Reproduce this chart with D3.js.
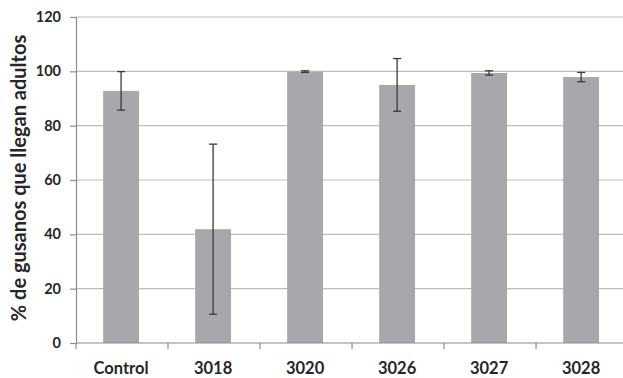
<!DOCTYPE html>
<html>
<head>
<meta charset="utf-8">
<script src="https://cdn.jsdelivr.net/npm/d3@7"></script>
<style>
  html, body { margin: 0; padding: 0; background: #fff; }
  svg { display: block; }
  text { font-family: Lato, "Open Sans", sans-serif; font-weight: bold; fill: #262626; }
</style>
</head>
<body>
<svg id="chart" width="623" height="378"></svg>
<script>
// Strains tested and mean percentage of worms reaching adulthood
const categories = ["Control", "3018", "3020", "3026", "3027", "3028"];
const means = [92.8, 41.9, 99.9, 95.0, 99.4, 97.9];
const errors = [7.1, 31.3, 0.3, 9.7, 0.8, 1.7];
const yTicks = [0, 20, 40, 60, 80, 100, 120];
const yTitle = "% de gusanos que llegan adultos";

const svg = d3.select("#chart");
const W = 623, H = 378;
const plot = { left: 76, top: 17, bottom: 343 };

const x = d3.scaleBand()
  .domain(categories)
  .range([plot.left, plot.left + 6 * 91.7])
  .paddingInner(0.61)
  .paddingOuter(0.295);

const y = d3.scaleLinear().domain([0, 120]).range([plot.bottom, plot.top]);

// horizontal gridlines
svg.append("g")
  .selectAll("line")
  .data(yTicks.filter(d => d > 0))
  .join("line")
  .attr("x1", plot.left).attr("x2", W)
  .attr("y1", d => y(d)).attr("y2", d => y(d))
  .attr("stroke", "#bdbdbd").attr("stroke-width", 1.2);

// bars
svg.append("g")
  .selectAll("rect")
  .data(categories)
  .join("rect")
  .attr("x", d => x(d))
  .attr("width", x.bandwidth())
  .attr("y", (d, i) => y(means[i]))
  .attr("height", (d, i) => y(0) - y(means[i]))
  .attr("fill", "#a6a8ac");

// error bars
const eb = svg.append("g").attr("stroke", "#3a3a3a").attr("stroke-width", 1.3);
categories.forEach((c, i) => {
  const cx = x(c) + x.bandwidth() / 2;
  const hi = y(means[i] + errors[i]), lo = y(means[i] - errors[i]);
  eb.append("line").attr("x1", cx).attr("x2", cx).attr("y1", hi).attr("y2", lo);
  eb.append("line").attr("x1", cx - 4).attr("x2", cx + 4).attr("y1", hi).attr("y2", hi);
  eb.append("line").attr("x1", cx - 4).attr("x2", cx + 4).attr("y1", lo).attr("y2", lo);
});

// y axis
const yAxis = svg.append("g")
  .attr("transform", `translate(${plot.left},0)`)
  .call(d3.axisLeft(y).tickValues(yTicks).tickSize(6).tickPadding(9));
yAxis.select(".domain").attr("stroke", "#8c8c8c").attr("stroke-width", 1.2);
yAxis.selectAll(".tick line").attr("stroke", "#8c8c8c").attr("stroke-width", 1.2);
yAxis.selectAll(".tick text").style("font-size", "14.5px").attr("fill", "#262626");

// x axis with ticks on category boundaries
const xAxisG = svg.append("g").attr("transform", `translate(0,${plot.bottom})`);
xAxisG.append("line")
  .attr("x1", plot.left).attr("x2", W)
  .attr("stroke", "#8c8c8c").attr("stroke-width", 1.2);
const step = x.step();
xAxisG.selectAll("line.tk")
  .data(d3.range(categories.length + 1))
  .join("line").attr("class", "tk")
  .attr("x1", i => plot.left + i * step).attr("x2", i => plot.left + i * step)
  .attr("y1", 0).attr("y2", 6)
  .attr("stroke", "#8c8c8c").attr("stroke-width", 1.2);
xAxisG.selectAll("text")
  .data(categories)
  .join("text")
  .attr("x", d => x(d) + x.bandwidth() / 2)
  .attr("y", 31)
  .attr("text-anchor", "middle")
  .style("font-size", "16.5px")
  .text(d => d);

// y axis title
svg.append("text")
  .attr("transform", `translate(26,${(plot.top + plot.bottom) / 2 - 2}) rotate(-90)`)
  .attr("text-anchor", "middle")
  .style("font-size", "20px")
  .text(yTitle);
</script>
</body>
</html>
